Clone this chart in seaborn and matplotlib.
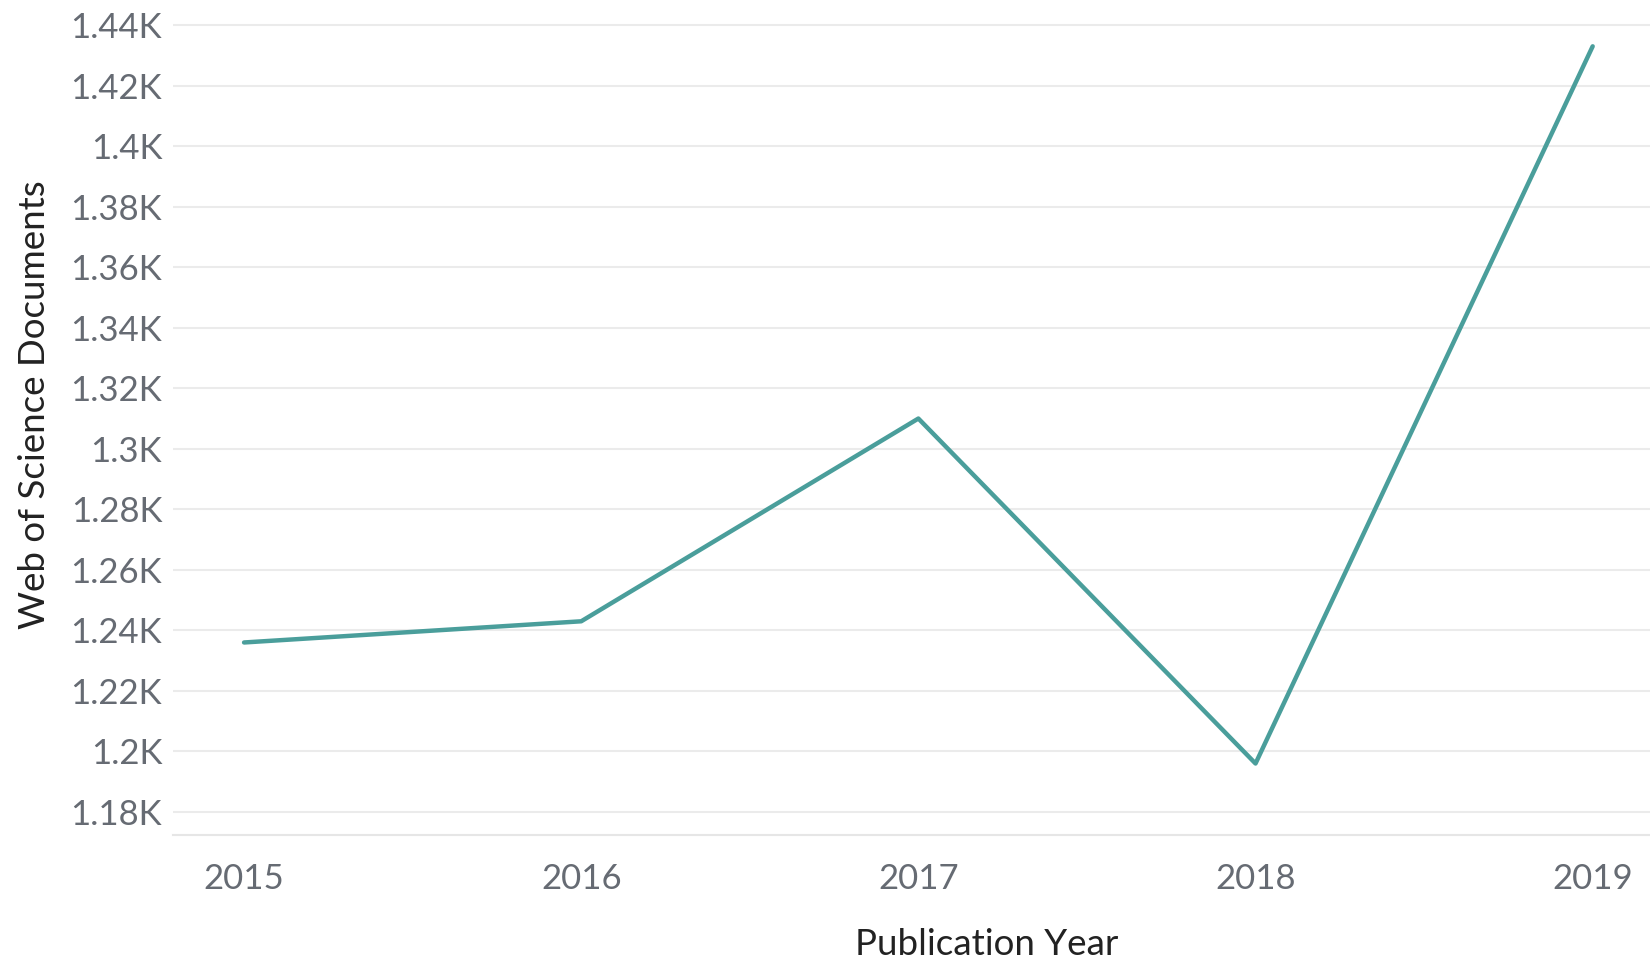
import seaborn as sns
import pandas as pd
import matplotlib.pyplot as plt
from matplotlib.ticker import FuncFormatter, MultipleLocator

# Данные
years = [2015, 2016, 2017, 2018, 2019]
documents = [1236, 1243, 1310, 1196, 1433]

df = pd.DataFrame({'year': years, 'docs': documents})

sns.set_style('white')
plt.rcParams['font.family'] = ['Lato', 'DejaVu Sans']

fig = plt.figure(figsize=(16.5, 9.72), dpi=100)
ax = fig.add_axes([0.105, 0.141, 0.895, 0.859])

sns.lineplot(data=df, x='year', y='docs', color='#4a9e9b', linewidth=3.2, ax=ax)

ax.set_xlim(2014.79, 2019.17)
ax.set_ylim(1172.4, 1448.3)
ax.set_xticks(years)
ax.set_xticklabels([str(y) for y in years])
ax.yaxis.set_major_locator(MultipleLocator(20))
ax.yaxis.set_major_formatter(FuncFormatter(lambda v, p: f'{v / 1000:g}K'))

ax.grid(axis='y', color='#ebebeb', linewidth=1.5)
ax.grid(axis='x', visible=False)
for s in ['top', 'right', 'left']:
    ax.spines[s].set_visible(False)
ax.spines['bottom'].set_color('#e6e6e6')
ax.spines['bottom'].set_linewidth(1.5)

ax.tick_params(axis='both', length=0, labelsize=25, colors='#666b73')
ax.tick_params(axis='x', pad=20)
ax.tick_params(axis='y', pad=8)

ax.set_xlabel('Publication Year', fontsize=26.5, color='#222222')
ax.set_ylabel('Web of Science Documents', fontsize=26.5, color='#222222')
ax.xaxis.set_label_coords(0.551, -0.112)
ax.yaxis.set_label_coords(-0.083, 0.515)

plt.savefig('out.png', dpi=100)
